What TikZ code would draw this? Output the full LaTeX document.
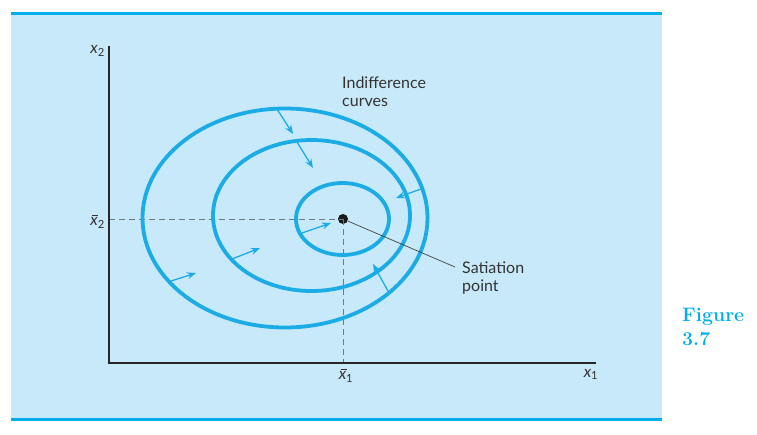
\documentclass[tikz,border=0pt]{standalone}
\usepackage{fontspec}
\setsansfont{Lato}
\usetikzlibrary{arrows.meta}
\definecolor{panel}{HTML}{C8E9FA}
\definecolor{cyanline}{HTML}{00AEEF}
\definecolor{curve}{HTML}{1BACE6}
\definecolor{dashgray}{HTML}{707880}
\newcommand{\myxbar}{\leavevmode\rlap{\hspace{0.12em}\rule[0.62em]{0.38em}{0.6pt}}\textit{x}}
\tikzset{
  icurve/.style={draw=curve, line width=3.8pt},
  iarrow/.style={draw=curve, line width=1.3pt, -{Stealth[length=9pt,width=7pt]}},
  axis/.style={draw=black!85, line width=2pt},
  guide/.style={draw=dashgray, line width=0.8pt, dash pattern=on 6pt off 4pt},
  lbl/.style={font=\sffamily\fontsize{16}{17.5}\selectfont, text=black!80, inner sep=0pt, align=left},
  figlbl/.style={font=\bfseries\fontsize{19.5}{24}\selectfont, text=cyanline, inner sep=0pt, align=left}
}
\begin{document}
\begin{tikzpicture}[x=1pt,y=-1pt]
\useasboundingbox (0,0) rectangle (757,434);
% panel
\fill[panel] (11,14) rectangle (662,419.5);
\draw[cyanline, line width=3.5pt] (11,13.5) -- (662,13.5);
\draw[cyanline, line width=3.5pt] (11,419.5) -- (662,419.5);
% key coordinates
\coordinate (O) at (109,363);
\coordinate (ytop) at (109,46);
\coordinate (xend) at (596,363);
\coordinate (x1foot) at (343,363);
\coordinate (x2foot) at (109,219);
% guides
\node[circle, fill=black!90, minimum size=10pt, inner sep=0pt] (S) at (343,219) {};
\draw[guide] (x2foot) -- (S.center);
\draw[guide] (S.center) -- (x1foot);
% curves
\draw[icurve] (285,218) ellipse [x radius=142.5, y radius=109.5];
\draw[icurve] (311.5,215.5) ellipse [x radius=98.5, y radius=75.5];
\draw[icurve] (342.5,219) ellipse [x radius=46.5, y radius=36];
% axes
\draw[axis] (ytop) -- (O) -- (xend);
% labels
\node[lbl, anchor=east] (lx2) at (105,51) {\textit{x}\textsubscript{2}};
\node[lbl, anchor=east] (lx2b) at (105,222) {\myxbar\textsubscript{2}};
\node[lbl, anchor=north] (lx1b) at (346,369) {\myxbar\textsubscript{1}};
\node[lbl, anchor=north] (lx1) at (591,369) {\textit{x}\textsubscript{1}};
\node[lbl, anchor=north west] (ind) at (342,77) {Indifference\\curves};
\node[lbl, anchor=north west] (sat) at (462,262) {Satiation\\point};
\node[figlbl, anchor=north west] (fig) at (682,308) {Figure\\3.7};
% leader
\coordinate (leadend) at (455,267);
\draw[black!75, line width=0.7pt] (S) -- (leadend);
% arrows
\coordinate (a1s) at (277,109); \coordinate (a1e) at (293,134);
\coordinate (a2s) at (297,142); \coordinate (a2e) at (313,168);
\coordinate (a3s) at (421,189); \coordinate (a3e) at (396,198);
\coordinate (a4s) at (302,233); \coordinate (a4e) at (331,223);
\coordinate (a5s) at (388,291); \coordinate (a5e) at (373,264);
\coordinate (a6s) at (168,282); \coordinate (a6e) at (196,273);
\coordinate (a7s) at (232,259); \coordinate (a7e) at (260,248);
\foreach \i in {1,...,7} {\draw[iarrow] (a\i s) -- (a\i e);}
\end{tikzpicture}
\end{document}
